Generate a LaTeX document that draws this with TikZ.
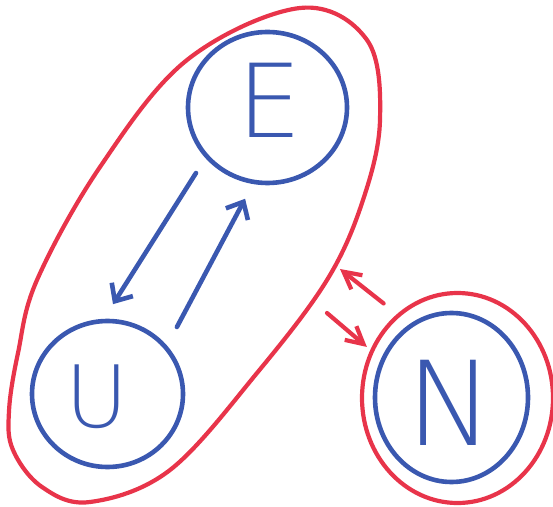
\documentclass[tikz,border=0pt]{standalone}
\usepackage{fontspec}
\usetikzlibrary{arrows.meta,calc,shapes.geometric}
\newfontfamily\handfont{DejaVu Sans ExtraLight}
\definecolor{penblue}{RGB}{58,88,176}
\definecolor{penred}{RGB}{232,52,74}
\tikzset{
  bnode/.style={ellipse, draw=penblue, line width=4.6pt, inner sep=0pt, outer sep=0pt},
  letter/.style={text=penblue, inner sep=0pt},
  rnode/.style={ellipse, draw=penred, line width=4.2pt, inner sep=0pt, outer sep=0pt},
  barrow/.style={draw=penblue, line width=4.6pt, line cap=round, line join=round, -{Straight Barb[length=14pt,width=25pt]}},
  rarrow/.style={draw=penred, line width=4.2pt, line cap=round, line join=round, -{Straight Barb[length=17pt,width=18pt]}},
  groupline/.style={draw=penred, line width=4.2pt, line join=round}
}
\begin{document}
\begin{tikzpicture}[x=1pt,y=1pt]
\useasboundingbox (0,0) rectangle (553,506);
% red group outline around E and U
\draw[groupline] plot[smooth cycle, tension=0.6] coordinates {
  (300,498) (367,466) (380,386) (363,306) (327,226) (257,133) (170,36)
  (90,4) (42,19) (13,56) (9,95) (18,153) (37,226) (100,339) (187,446)};
\coordinate (gA) at (340,237);
\coordinate (gB) at (327,193);
% blue nodes
\node[bnode, minimum width=159pt, minimum height=151pt] (E) at (267.5,398.5) {};
\node[bnode, minimum width=151pt, minimum height=146pt] (U) at (107.5,112) {};
\node[bnode, minimum width=153pt, minimum height=169pt] (N) at (451.5,108.5) {};
\node[rnode, minimum width=191pt, minimum height=210pt] (NR) at (457.5,108) {};
\node[letter, font={\handfont\fontsize{102}{102}\selectfont}] (Et) at (270,406) {E};
\node[letter, font={\handfont\fontsize{86}{86}\selectfont}] (Ut) at (97,109.5) {U};
\node[letter, font={\handfont\fontsize{117}{117}\selectfont}] (Nt) at (450,103.5) {N};
% blue arrows
\draw[barrow] ($(E.center)+(222.5:97)$) -- ($(U.center)+(86.5:90)$);
\draw[barrow] ($(U.center)+(44:96.5)$) -- ($(E.center)+(256.2:94)$);
% red arrows
\draw[rarrow] ($(NR.center)+(128:120)$) -- (gA);
\draw[rarrow] (gB) -- ($(NR.center)+(150.6:104)$);
\end{tikzpicture}
\end{document}
